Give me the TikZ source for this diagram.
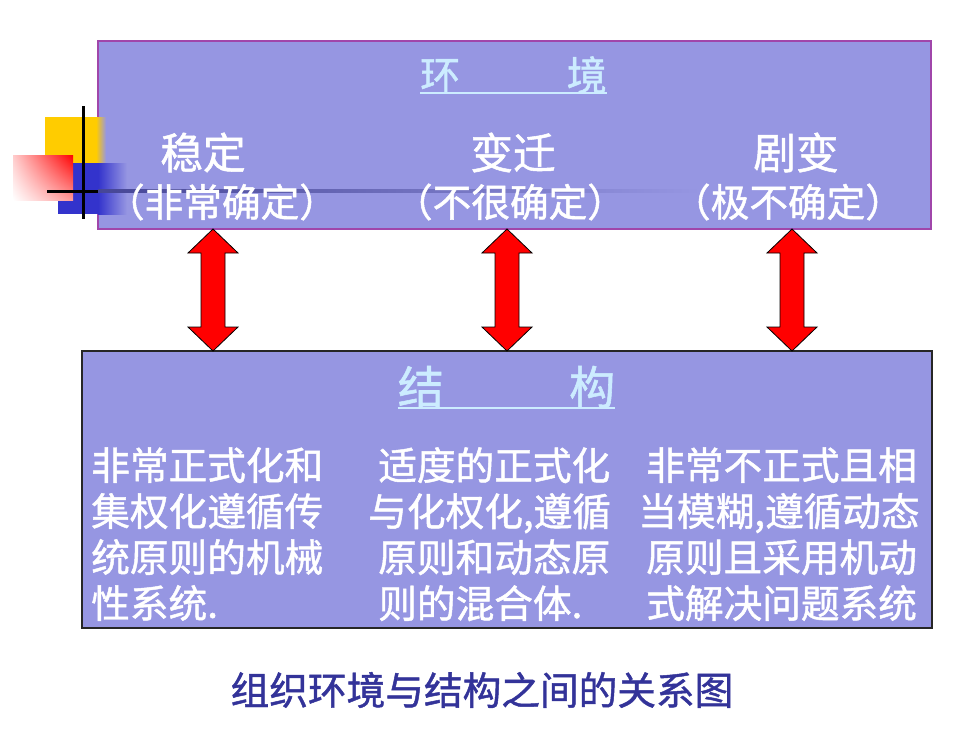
\documentclass[tikz,border=0pt]{standalone}
\usepackage{fontspec}
\setmainfont{Noto Sans CJK SC}[FakeBold=1.2]
\usetikzlibrary{calc,shadings}
\definecolor{boxfill}{RGB}{150,150,226}
\definecolor{topborder}{RGB}{160,70,170}
\definecolor{titleblue}{RGB}{204,236,255}
\definecolor{capblue}{RGB}{51,51,153}
\definecolor{decoyellow}{RGB}{255,204,0}
\definecolor{decoblue}{RGB}{51,51,204}
\definecolor{linenavy}{RGB}{70,70,150}
\tikzset{
  envbox/.style={draw=topborder, line width=0.9pt, fill=boxfill, inner sep=0pt, outer sep=0pt, minimum width=624.75pt, minimum height=141pt, anchor=north west},
  strbox/.style={draw=black!85, line width=0.9pt, fill=boxfill, inner sep=0pt, outer sep=0pt, minimum width=637.5pt, minimum height=207.75pt, anchor=north west},
  wtext/.style={text=white, inner sep=0pt},
  headtext/.style={text=titleblue, inner sep=0pt},
  bodytext/.style={text=white, inner sep=0pt, align=left, anchor=north west, font=\fontsize{29pt}{34.5pt}\selectfont},
  redarrow/.style={fill=red, draw=black, line width=0.6pt, line join=miter},
  ulline/.style={draw=titleblue, line width=1.5pt},
}
\newcommand{\dblarrowpath}[2]{%
  \draw[redarrow] (#1) -- ++(25,24) -- ++(-13,0) -- ($(#2)+(12,-24)$) -- ++(13,0) -- (#2)
    -- ++(-25,-24) -- ++(13,0) -- ($(#1)+(-12,24)$) -- ++(-13,0) -- cycle;}
\begin{document}
\begin{tikzpicture}[x=0.75pt,y=-0.75pt]
\useasboundingbox (0,0) rectangle (980,735);
\fill[white] (0,0) rectangle (980,735);
% boxes
\node[envbox] (env) at (98,41) {};
\node[strbox] (str) at (82,351) {};
% decoration
\fill[decoyellow] (45,117) rectangle (96,163);
\shade[left color=decoyellow, right color=boxfill] (96,117) rectangle (106,163);
\fill[decoblue] (58,163) rectangle (98,214);
\shade[left color=decoblue, right color=boxfill] (98,163) rectangle (127,214);
\shade[upper left=red!20!white, upper right=red, lower left=white, lower right=red!40!white] (13,155) rectangle (73,200);
\shade[left color=linenavy, right color=boxfill] (98,189.5) rectangle (700,192.5);
\draw[line width=2.25pt, black] (47,191) -- (98,191);
\draw[line width=2.25pt, black] (83,106) -- (83,219);
% arrows
\coordinate (a1t) at ($(env.south west)+(115,0)$);
\coordinate (a1b) at ($(str.north west)+(131,0)$);
\coordinate (a2t) at ($(env.south west)+(409,0)$);
\coordinate (a2b) at ($(str.north west)+(425,0)$);
\coordinate (a3t) at ($(env.south west)+(694,0)$);
\coordinate (a3b) at ($(str.north west)+(710,0)$);
\dblarrowpath{a1t}{a1b}
\dblarrowpath{a2t}{a2b}
\dblarrowpath{a3t}{a3b}
% environment texts
\node[headtext, font=\fontsize{30pt}{30pt}\selectfont] (envtitle) at (513.5,75) {环\hspace{80pt}境};
\coordinate (envul) at (0,93);
\draw[ulline] (envtitle.west |- envul) -- (envtitle.east |- envul);
\node[wtext, font=\fontsize{32pt}{32pt}\selectfont] (stable) at (203,152.5) {稳定};
\node[wtext, font=\fontsize{32pt}{32pt}\selectfont] (change) at (513,152.5) {变迁};
\node[wtext, font=\fontsize{32pt}{32pt}\selectfont] (turb) at (796,152.5) {剧变};
\node[wtext, font=\fontsize{29pt}{29pt}\selectfont] (stablesub) at (222,202) {（非常确定）};
\node[wtext, font=\fontsize{29pt}{29pt}\selectfont] (changesub) at (510,202) {（不很确定）};
\node[wtext, font=\fontsize{29pt}{29pt}\selectfont] (turbsub) at (788,202) {（极不确定）};
% structure texts
\node[headtext, font=\fontsize{34.5pt}{34.5pt}\selectfont] (strtitle) at (506.5,387) {结\hspace{94pt}构};
\coordinate (strul) at (0,408);
\draw[ulline] (strtitle.west |- strul) -- (strtitle.east |- strul);
\node[bodytext] (col1) at (91,447) {非常正式化和\\集权化遵循传\\统原则的机械\\性系统.};
\node[bodytext] (col2) at (368,447) {\hspace*{7.5pt}适度的正式化\\与化权化,遵循\\\hspace*{7.5pt}原则和动态原\\\hspace*{7.5pt}则的混合体.};
\node[bodytext] (col3) at (638,447) {\hspace*{6pt}非常不正式且相\\当模糊,遵循动态\\\hspace*{6pt}原则且采用机动\\\hspace*{6pt}式解决问题系统};
% caption
\node[text=capblue, inner sep=0pt, font=\fontsize{29pt}{29pt}\selectfont] (caption) at (482,690) {组织环境与结构之间的关系图};
\end{tikzpicture}
\end{document}
